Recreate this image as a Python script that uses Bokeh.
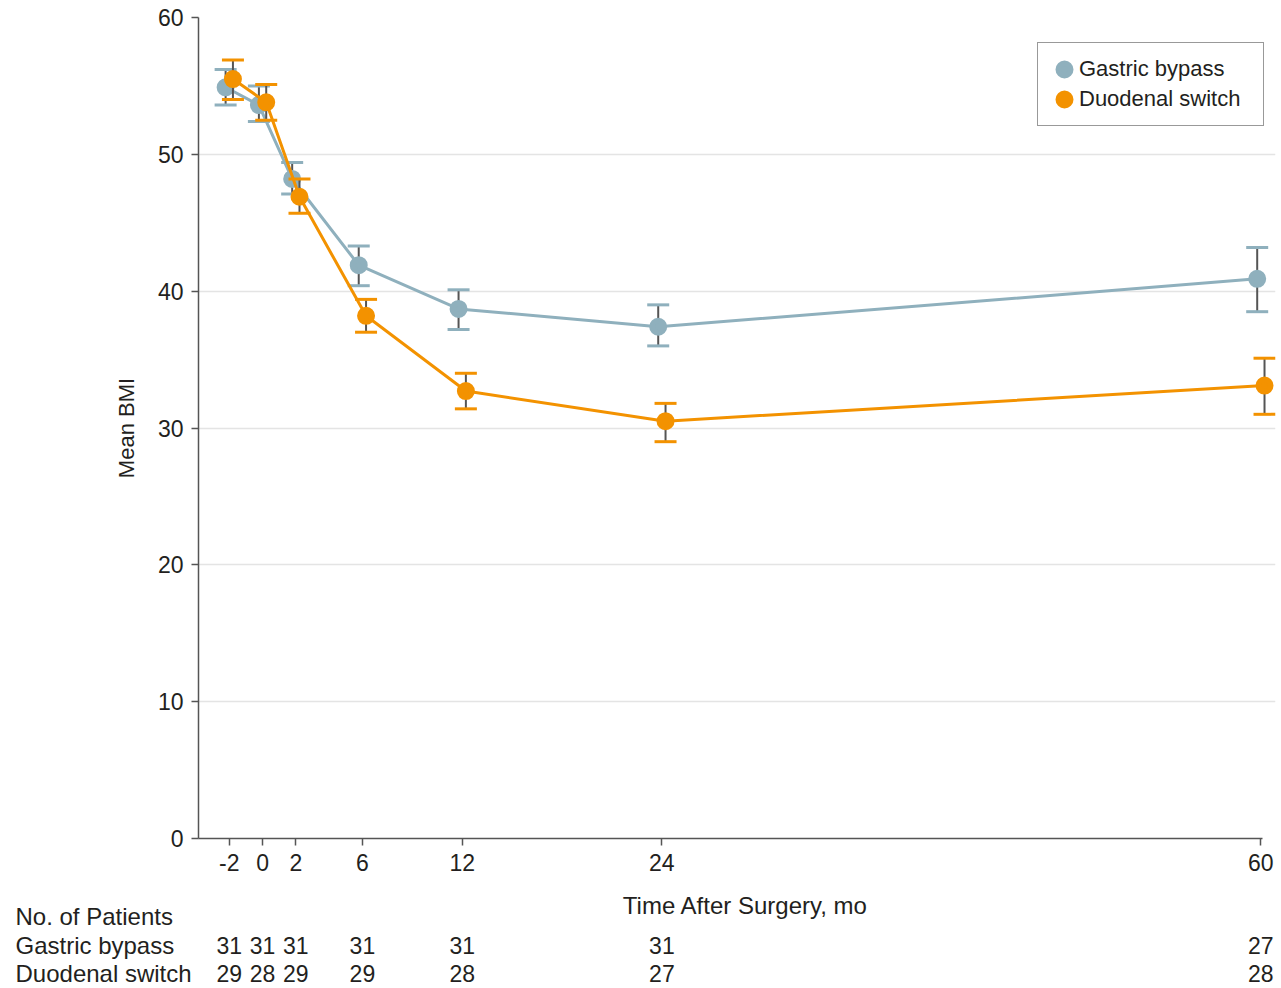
from bokeh.plotting import figure
from bokeh.models import Range1d, FixedTicker, ColumnDataSource, Legend, LegendItem
from bokeh.core.properties import value
from bokeh.embed import file_html
from bokeh.resources import INLINE

# ---------------- data ----------------
months = [-2, 0, 2, 6, 12, 24, 60]
gb_mean = [54.9, 53.6, 48.2, 41.9, 38.7, 37.4, 40.9]
gb_lower = [53.6, 52.4, 47.1, 40.4, 37.2, 36.0, 38.5]
gb_upper = [56.2, 55.0, 49.4, 43.3, 40.1, 39.0, 43.2]
ds_mean = [55.5, 53.8, 46.9, 38.2, 32.7, 30.5, 33.1]
ds_lower = [54.0, 52.5, 45.7, 37.0, 31.4, 29.0, 31.0]
ds_upper = [56.9, 55.1, 48.2, 39.4, 34.0, 31.8, 35.1]
gb_n = [31, 31, 31, 31, 31, 31, 27]
ds_n = [29, 28, 29, 29, 28, 27, 28]
x_ticks = [-2, 0, 2, 6, 12, 24, 60]
y_ticks = [0, 10, 20, 30, 40, 50, 60]
series_names = ["Gastric bypass", "Duodenal switch"]
table_title = "No. of Patients"
x_label = "Time After Surgery, mo"
y_label = "Mean BMI"

# ---------------- style ----------------
FONT = "Liberation Sans"
TEXT = "#231f20"
AXIS = "#555555"
GB_COLOR = "#8fb0bd"
DS_COLOR = "#f39200"
STEM = "#555555"
DODGE = 0.22

W = 1281
H1 = 883
FL, FT, FB, FR = 198, 17, 45, 6
X0, X1 = -3.85, 60.88
Y0, Y1 = 0, 60
frame_w = W - FL - FR
ppx = frame_w / (X1 - X0)

p = figure(width=W, height=H1, x_range=Range1d(X0, X1), y_range=Range1d(Y0, Y1),
           output_backend="svg", toolbar_location=None,
           min_border_left=FL, min_border_right=FR, min_border_top=FT, min_border_bottom=FB)
p.outline_line_color = None
p.background_fill_color = "white"
p.border_fill_color = "white"


def draw_series(mean, lower, upper, color, shift):
    xs = [m + shift for m in months]
    src = ColumnDataSource(dict(x=xs, y=mean, lower=lower, upper=upper))
    p.line("x", "y", source=src, line_color=color, line_width=3)
    p.segment(x0="x", y0="lower", x1="x", y1="upper", source=src, line_color=STEM, line_width=2)
    p.scatter("x", "lower", source=src, marker="dash", size=22, line_color=color, line_width=3)
    p.scatter("x", "upper", source=src, marker="dash", size=22, line_color=color, line_width=3)
    return p.scatter("x", "y", source=src, marker="circle", size=12,
                     fill_color=color, line_color=color, line_width=6)


gb_pts = draw_series(gb_mean, gb_lower, gb_upper, GB_COLOR, -DODGE)
ds_pts = draw_series(ds_mean, ds_lower, ds_upper, DS_COLOR, DODGE)

# ---------------- axes ----------------
p.xaxis.ticker = FixedTicker(ticks=x_ticks)
p.yaxis.ticker = FixedTicker(ticks=y_ticks)
p.xaxis.major_label_overrides = {t: str(t) for t in x_ticks}
p.xaxis.bounds = (X0, 60.1)
p.yaxis.bounds = (0, 60)
for ax in (p.xaxis[0], p.yaxis[0]):
    ax.axis_line_color = AXIS
    ax.axis_line_width = 1.5
    ax.major_tick_line_color = AXIS
    ax.major_tick_line_width = 1.5
    ax.major_tick_out = 7
    ax.major_tick_in = 0
    ax.minor_tick_line_color = None
    ax.major_label_text_font = FONT
    ax.major_label_text_font_size = "23px"
    ax.major_label_text_color = TEXT
    ax.axis_label_text_font = FONT
    ax.axis_label_text_font_style = "normal"
    ax.axis_label_text_color = TEXT
p.xaxis.major_label_standoff = 8
p.yaxis.axis_label = y_label
p.yaxis.axis_label_text_font_size = "22px"
p.yaxis.major_label_standoff = 8
p.yaxis.axis_label_standoff = 16

p.xgrid.visible = False
p.ygrid.ticker = FixedTicker(ticks=y_ticks)
p.ygrid.grid_line_color = "#e4e4e4"
p.ygrid.grid_line_width = 1.5

# ---------------- legend ----------------
legend = Legend(items=[LegendItem(label=series_names[0], renderers=[gb_pts]),
                       LegendItem(label=series_names[1], renderers=[ds_pts])],
                location=(839, 712), orientation="vertical",
                glyph_width=30, glyph_height=30, spacing=0, padding=11,
                label_standoff=0, label_width=173, margin=0,
                border_line_color="#333333", border_line_width=1.5,
                background_fill_color="white", background_fill_alpha=1.0,
                label_text_font=FONT, label_text_font_size="22px", label_text_color=TEXT)
p.add_layout(legend)

# ---------------- x-axis title and patient table (second root, same x mapping) ----------------
H2 = 104
TX0 = X0 - FL / ppx
TX1 = TX0 + W / ppx
t = figure(width=W, height=H2, x_range=Range1d(TX0, TX1), y_range=Range1d(H2, 0),
           output_backend="svg", toolbar_location=None,
           min_border_left=0, min_border_right=0, min_border_top=0, min_border_bottom=0)
t.axis.visible = False
t.grid.visible = False
t.outline_line_color = None
t.background_fill_color = "white"
t.border_fill_color = "white"

ROW_TITLE_X = TX0 + 15 / ppx
ROW_Y = {"xlabel": 22, "title": 33, "gb": 62, "ds": 90}
XLABEL_X = X0 + (745 - FL) / ppx

t.text(x=[XLABEL_X], y=[ROW_Y["xlabel"]], text=[x_label], text_align="center",
       text_baseline="middle", text_font=value(FONT), text_font_size="24px", text_color=TEXT)
t.text(x=[ROW_TITLE_X] * 3, y=[ROW_Y["title"], ROW_Y["gb"], ROW_Y["ds"]],
       text=[table_title, series_names[0], series_names[1]], text_align="left",
       text_baseline="middle", text_font=value(FONT), text_font_size="24px", text_color=TEXT)
t.text(x=months, y=[ROW_Y["gb"]] * len(months), text=[str(n) for n in gb_n], text_align="center",
       text_baseline="middle", text_font=value(FONT), text_font_size="23px", text_color=TEXT)
t.text(x=months, y=[ROW_Y["ds"]] * len(months), text=[str(n) for n in ds_n], text_align="center",
       text_baseline="middle", text_font=value(FONT), text_font_size="23px", text_color=TEXT)

open("out.html", "w").write(file_html([p, t], INLINE))
